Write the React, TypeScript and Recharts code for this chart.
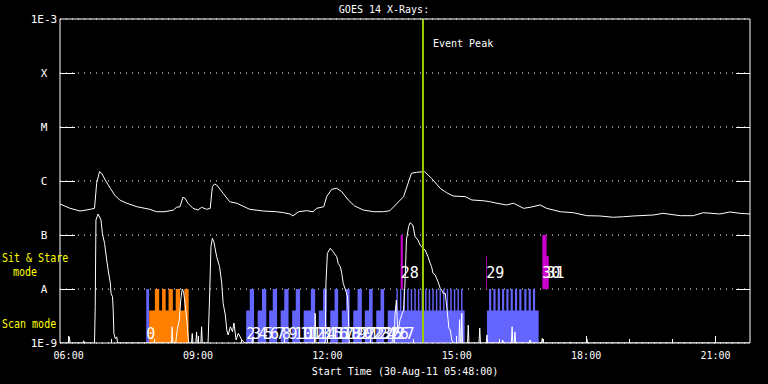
import React from 'react'
import {
  ComposedChart,
  Line,
  Area,
  Scatter,
  XAxis,
  YAxis,
  CartesianGrid,
  ReferenceLine,
} from 'recharts'

// ─── data ────────────────────────────────────────────────────────────────

const START = '05:48'
const END = '21:48'
const EVENT_PEAK = '14:13'

const fluxTicks = [1e-9, 1e-8, 1e-7, 1e-6, 1e-5, 1e-4, 1e-3]
const fluxLabels = ['1E-9', 'A', 'B', 'C', 'M', 'X', '1E-3']
const hourTicks = [6, 7, 8, 9, 10, 11, 12, 13, 14, 15, 16, 17, 18, 19, 20, 21]
const labelHours = [6, 9, 12, 15, 18, 21]

// GOES 1-8 A channel [time, W/m2]
const longChannel: [string, number][] = [
  ['05:48', 3.75e-7], ['06:02', 3.12e-7], ['06:16', 2.78e-7], ['06:30', 2.99e-7],
  ['06:36', 3.12e-7], ['06:39', 9.06e-7], ['06:43', 1.49e-6], ['06:46', 1.39e-6],
  ['06:51', 1.04e-6], ['06:58', 7.33e-7], ['07:04', 5.51e-7], ['07:11', 4.45e-7],
  ['07:21', 3.87e-7], ['07:35', 3.34e-7], ['07:53', 2.99e-7], ['08:02', 2.7e-7],
  ['08:14', 2.7e-7], ['08:26', 2.9e-7], ['08:30', 3.26e-7], ['08:35', 3.34e-7],
  ['08:39', 4.99e-7], ['08:42', 4.79e-7], ['08:46', 3.87e-7], ['08:53', 3.12e-7],
  ['09:00', 2.9e-7], ['09:05', 3.26e-7], ['09:12', 2.99e-7], ['09:17', 3.12e-7],
  ['09:20', 7.84e-7], ['09:23', 8.8e-7], ['09:26', 8.43e-7], ['09:35', 5.92e-7],
  ['09:44', 4.14e-7], ['09:54', 3.87e-7], ['10:12', 2.99e-7], ['10:31', 2.78e-7],
  ['10:49', 2.7e-7], ['10:59', 2.59e-7], ['11:08', 2.45e-7], ['11:12', 2.25e-7],
  ['11:20', 2.7e-7], ['11:31', 2.82e-7], ['11:40', 2.7e-7], ['11:45', 3.12e-7],
  ['11:55', 3.34e-7], ['11:59', 5.12e-7], ['12:06', 7.02e-7], ['12:13', 7.33e-7],
  ['12:20', 6.34e-7], ['12:29', 4.45e-7], ['12:38', 3.44e-7], ['12:50', 2.9e-7],
  ['13:04', 2.7e-7], ['13:18', 2.7e-7], ['13:27', 2.82e-7], ['13:36', 3.75e-7],
  ['13:46', 5.12e-7], ['13:53', 9.7e-7], ['13:57', 1.39e-6], ['14:04', 1.45e-6],
  ['14:15', 1.49e-6], ['14:25', 1.12e-6], ['14:37', 7.33e-7], ['14:46', 6.07e-7],
  ['14:55', 5.27e-7], ['15:12', 5.12e-7], ['15:21', 4.45e-7], ['15:37', 4.31e-7],
  ['15:46', 4.14e-7], ['15:56', 3.87e-7], ['16:09', 3.6e-7], ['16:19', 3.87e-7],
  ['16:33', 3.12e-7], ['16:42', 3.26e-7], ['16:56', 3.6e-7], ['17:05', 3.12e-7],
  ['17:24', 2.7e-7], ['17:42', 2.59e-7], ['18:01', 2.28e-7], ['18:19', 2.25e-7],
  ['18:38', 2.13e-7], ['18:52', 2.18e-7], ['19:06', 2.25e-7], ['19:34', 2.35e-7],
  ['19:47', 2.52e-7], ['20:11', 2.28e-7], ['20:29', 2.28e-7], ['20:43', 2.59e-7],
  ['21:06', 2.45e-7], ['21:20', 2.67e-7], ['21:34', 2.52e-7], ['21:48', 2.45e-7],
]

// GOES 0.5-4 A channel [time, W/m2]
const shortChannel: [string, number][] = [
  ['05:48', 1e-9], ['06:00', 1e-9], ['06:01', 1.3e-9], ['06:02', 1e-9],
  ['06:20', 1e-9], ['06:21', 1.1e-9], ['06:22', 1e-9],
  ['06:36', 1e-9], ['06:37', 4.7e-9], ['06:38', 1.9e-7], ['06:41', 2.45e-7],
  ['06:45', 1.9e-7], ['06:47', 1.07e-7], ['06:50', 7.0e-8], ['06:53', 3.44e-8],
  ['06:55', 2.25e-8], ['06:58', 1.28e-8], ['06:59', 8.3e-9], ['07:01', 7.2e-9],
  ['07:02', 4.1e-9], ['07:03', 1.5e-9], ['07:05', 1.2e-9], ['07:07', 1.3e-9],
  ['07:08', 1e-9],
  ['08:23', 1e-9], ['08:24', 2e-9], ['08:25', 1e-9],
  ['08:29', 1e-9], ['08:31', 1.74e-9], ['08:34', 2.67e-9], ['08:36', 6.25e-9],
  ['08:38', 1e-8], ['08:40', 8.8e-9], ['08:43', 4.1e-9], ['08:45', 2.15e-9],
  ['08:47', 1e-9],
  ['08:51', 1e-9], ['08:52', 1.5e-9], ['08:53', 1e-9], ['08:57', 1e-9],
  ['08:58', 1.6e-9], ['08:59', 1e-9], ['09:04', 1e-9], ['09:05', 2e-9],
  ['09:06', 1e-9],
  ['09:14', 1e-9], ['09:16', 6.25e-9], ['09:18', 6.07e-8], ['09:20', 8.7e-8],
  ['09:22', 7.5e-8], ['09:26', 3.96e-8], ['09:30', 2.59e-8], ['09:33', 1.28e-8],
  ['09:35', 5.43e-9], ['09:38', 3.3e-9], ['09:40', 1.74e-9], ['09:42', 1.41e-9],
  ['09:45', 2e-9], ['09:48', 1.62e-9], ['09:50', 2.35e-9], ['09:53', 1.14e-9],
  ['09:56', 1.51e-9], ['10:01', 1.14e-9], ['10:05', 1e-9],
  ['10:15', 1e-9], ['10:16', 1.3e-9], ['10:17', 1e-9],
  ['11:42', 1e-9], ['11:43', 3.55e-9], ['11:44', 1e-9],
  ['11:57', 1e-9], ['11:58', 1.28e-8], ['12:00', 4.58e-8], ['12:04', 5.67e-8],
  ['12:08', 4.9e-8], ['12:13', 3.96e-8], ['12:15', 2.99e-8], ['12:18', 2.59e-8],
  ['12:20', 1.95e-8], ['12:22', 1.28e-8], ['12:26', 8.9e-9], ['12:28', 7.2e-9],
  ['12:29', 4.1e-9], ['12:30', 1.14e-9], ['12:31', 1e-9],
  ['13:30', 1e-9], ['13:32', 2e-9], ['13:33', 1e-9], ['13:34', 3.3e-9],
  ['13:36', 6.25e-9], ['13:38', 1.5e-9], ['13:41', 2.67e-9], ['13:46', 4.1e-9],
  ['13:48', 1.29e-8], ['13:50', 8.07e-8], ['13:53', 1.43e-7], ['13:55', 1.69e-7],
  ['13:59', 1.53e-7], ['14:02', 9.3e-8], ['14:06', 8.07e-8], ['14:09', 6.5e-8],
  ['14:11', 6.07e-8], ['14:13', 5.67e-8], ['14:16', 5.27e-8], ['14:20', 3.96e-8],
  ['14:23', 3.0e-8], ['14:25', 2.59e-8], ['14:27', 1.95e-8], ['14:30', 1.82e-8],
  ['14:34', 1.36e-8], ['14:37', 1.03e-8], ['14:39', 9.6e-9], ['14:41', 8.3e-9],
  ['14:44', 8.3e-9], ['14:46', 4.7e-9], ['14:48', 2.67e-9], ['14:49', 1.9e-9],
  ['14:51', 1.74e-9], ['14:53', 1.14e-9], ['14:55', 1e-9],
  ['15:03', 1e-9], ['15:04', 2.7e-9], ['15:05', 1e-9], ['15:06', 1e-9],
  ['15:07', 3.55e-9], ['15:08', 1e-9], ['15:15', 1e-9], ['15:16', 2.15e-9],
  ['15:17', 1e-9], ['15:31', 1e-9], ['15:32', 1.9e-9], ['15:33', 1e-9],
  ['15:41', 1e-9], ['15:42', 1.41e-9], ['15:43', 1e-9], ['16:03', 1e-9],
  ['16:04', 1.14e-9], ['16:05', 1e-9], ['16:16', 1e-9], ['16:17', 2e-9],
  ['16:18', 1e-9], ['16:20', 1e-9], ['16:21', 1.6e-9], ['16:22', 1e-9],
  ['16:41', 1e-9], ['16:42', 1.14e-9], ['16:43', 1e-9], ['16:58', 1e-9],
  ['16:59', 1.22e-9], ['17:00', 1e-9], ['17:37', 1e-9], ['17:38', 1.05e-9],
  ['17:39', 1e-9], ['18:00', 1e-9], ['18:01', 1.2e-9], ['18:02', 1e-9],
  ['21:48', 1e-9],
]

// observing timeline, step levels: 1 = full raster row, 0.6 = partial
const scanBlue: [string, number][] = [
  ['07:48', 1], ['07:52', 0],
  ['10:07', 0.6], ['10:12', 1], ['10:18', 0], ['10:23', 0.6], ['10:29', 1], ['10:35', 0],
  ['10:39', 0.6], ['10:44', 1], ['10:50', 0], ['10:55', 0.6], ['11:00', 1], ['11:06', 0],
  ['11:11', 0.6], ['11:16', 1], ['11:22', 0], ['11:27', 0.6], ['11:37', 1], ['11:43', 0],
  ['11:48', 0.6], ['11:54', 1], ['11:59', 0], ['12:04', 0.6], ['12:10', 1], ['12:15', 0],
  ['12:20', 0.6], ['12:26', 1], ['12:31', 0], ['12:36', 0.6], ['12:42', 1], ['12:48', 0],
  ['12:52', 0.6], ['12:58', 1], ['13:03', 0], ['13:08', 0.6], ['13:14', 1], ['13:19', 0],
  ['13:24', 0.6], ['13:36', 1], ['13:38', 0.6], ['13:41', 1], ['13:43', 0.6],
  ['13:46', 1], ['13:48', 0.6], ['13:51', 1], ['13:53', 0.6], ['13:56', 1], ['13:58', 0.6],
  ['14:01', 1], ['14:03', 0.6], ['14:06', 1], ['14:08', 0.6], ['14:11', 1], ['14:13', 0.6],
  ['14:16', 1], ['14:18', 0.6], ['14:21', 1], ['14:23', 0.6], ['14:26', 1], ['14:28', 0.6],
  ['14:31', 1], ['14:33', 0.6], ['14:36', 1], ['14:38', 0.6], ['14:41', 1], ['14:43', 0.6],
  ['14:46', 1], ['14:48', 0.6], ['14:51', 1], ['14:53', 0.6], ['14:56', 1], ['14:58', 0.6],
  ['15:01', 1], ['15:03', 0.6], ['15:06', 1], ['15:08', 0.6], ['15:11', 0],
  ['15:42', 0.6], ['15:45', 1], ['15:48', 0.6], ['15:51', 1], ['15:54', 0.6],
  ['15:57', 1], ['16:00', 0.6], ['16:03', 1], ['16:06', 0.6], ['16:09', 1], ['16:12', 0.6],
  ['16:15', 1], ['16:18', 0.6], ['16:21', 1], ['16:24', 0.6], ['16:27', 1], ['16:30', 0.6],
  ['16:34', 1], ['16:37', 0.6], ['16:40', 1], ['16:43', 0.6], ['16:46', 1], ['16:49', 0.6],
  ['16:54', 0],
]

const scanOrange: [string, number][] = [
  ['07:52', 0.6], ['08:00', 1], ['08:06', 0.6], ['08:10', 1], ['08:15', 0.6],
  ['08:19', 1], ['08:25', 0.6], ['08:29', 1], ['08:35', 0.6], ['08:41', 1], ['08:47', 0],
]

// sit & stare row sits on top of the scan row (base level 1)
const sitStare: [string, number][] = [
  ['13:42', 2], ['13:45', 1], ['15:41', 1.61], ['15:42', 1],
  ['16:59', 2], ['17:05', 1.61], ['17:08', 1],
]

const scanNumbers: [string, string][] = [
  ['07:48', '0'], ['10:07', '2'], ['10:15', '3'], ['10:24', '4'], ['10:32', '5'],
  ['10:40', '6'], ['10:49', '7'], ['10:57', '8'], ['11:06', '9'], ['11:14', '10'],
  ['11:22', '11'], ['11:31', '12'], ['11:39', '13'], ['11:47', '14'], ['11:56', '15'],
  ['12:04', '16'], ['12:12', '17'], ['12:21', '18'], ['12:29', '19'], ['12:38', '20'],
  ['12:46', '21'], ['12:54', '22'], ['13:03', '23'], ['13:11', '24'], ['13:19', '25'],
  ['13:28', '26'], ['13:36', '27'],
]
const stareNumbers: [string, string][] = [
  ['13:42', '28'], ['15:41', '29'], ['16:59', '30'], ['17:05', '31'],
]

// ─── helpers ─────────────────────────────────────────────────────────────

const FONT = '"DejaVu Sans Mono", monospace'
const BLUE = '#6464ff'
const ORANGE = '#ff8000'
const MAGENTA = '#cc00cc'
const GREEN = '#9ccc00'
const YELLOW = '#ffff00'

const SCAN_ROW = 0.07
const STARE_ROW = 1.2

function toH(s: string): number {
  const [h, m] = s.split(':').map(Number)
  return h + m / 60
}

const T0 = toH(START)
const T1 = toH(END)

const longData = longChannel.map(([t, f]) => ({ t: toH(t), flux: f }))
const shortData = shortChannel.map(([t, f]) => ({ t: toH(t), flux: f }))
const blueData = scanBlue.map(([t, v]) => ({ t: toH(t), v }))
const orangeData = scanOrange.map(([t, v]) => ({ t: toH(t), v }))
const stareData = sitStare.map(([t, v]) => ({ t: toH(t), v }))
const numberData = [
  ...scanNumbers.map(([t, text]) => ({ t: toH(t), v: SCAN_ROW, text })),
  ...stareNumbers.map(([t, text]) => ({ t: toH(t), v: STARE_ROW, text })),
]

function decade(v: number) {
  return Math.round(Math.log10(v)) + 9
}

function LeftTick(props: any) {
  const { x, y, payload } = props
  const i = decade(payload.value)
  const inner = i > 0 && i < fluxTicks.length - 1
  return (
    <g>
      {inner && <line x1={x} x2={x + 15} y1={y} y2={y} stroke="#fff" shapeRendering="crispEdges" />}
      <text x={x - 16} y={y + 4} textAnchor="middle" fill="#fff" fontSize={11} fontFamily={FONT}>
        {fluxLabels[i]}
      </text>
    </g>
  )
}

function RightTick(props: any) {
  const { x, y, payload } = props
  const i = decade(payload.value)
  if (i <= 0 || i >= fluxTicks.length - 1) return null
  return <line x1={x - 14} x2={x} y1={y} y2={y} stroke="#fff" shapeRendering="crispEdges" />
}

function BottomTick(props: any) {
  const { x, y, payload } = props
  const major = labelHours.includes(payload.value)
  return (
    <g>
      <line x1={x} x2={x} y1={y} y2={y - (major ? 7 : 4)} stroke="#fff" shapeRendering="crispEdges" />
      {major && (
        <text x={x} y={y + 16} textAnchor="middle" fill="#fff" fontSize={10} fontFamily={FONT}>
          {String(payload.value).padStart(2, '0')}:00
        </text>
      )}
    </g>
  )
}

function TopTick(props: any) {
  const { x, y, payload } = props
  const major = labelHours.includes(payload.value)
  return <line x1={x} x2={x} y1={y} y2={y + (major ? 7 : 4)} stroke="#fff" shapeRendering="crispEdges" />
}

function NumberLabel(props: any) {
  const { cx, cy, payload } = props
  return (
    <text x={cx} y={cy} fill="#fff" fontSize={15} fontFamily={FONT}>
      {payload.text}
    </text>
  )
}

function PeakLabel(props: any) {
  const vb = props.viewBox || {}
  return (
    <text x={vb.x + 10} y={vb.y + 28} fill="#fff" fontSize={10} fontFamily={FONT}>
      Event Peak
    </text>
  )
}

const yellowText: React.CSSProperties = {
  position: 'absolute',
  color: YELLOW,
  fontFamily: FONT,
  fontSize: 10,
  lineHeight: '10px',
  whiteSpace: 'pre',
  transform: 'scaleY(1.3)',
}

// ─── chart ───────────────────────────────────────────────────────────────

export default function App() {
  return (
    <div style={{ position: 'fixed', left: 0, top: 0, width: 768, height: 384, background: '#000' }}>
      <ComposedChart width={768} height={384} margin={{ top: 0, right: 0, bottom: 0, left: 0 }}>
        <CartesianGrid
          xAxisId="time"
          yAxisId="flux"
          vertical={false}
          stroke="#fff"
          strokeDasharray="1 5"
        />
        <XAxis
          xAxisId="time"
          dataKey="t"
          type="number"
          domain={[T0, T1]}
          ticks={hourTicks}
          interval={0}
          allowDataOverflow
          height={41}
          tickSize={0}
          tickMargin={0}
          tickLine={false}
          axisLine={{ stroke: '#fff' }}
          tick={<BottomTick />}
          label={{
            value: `Start Time (30-Aug-11 ${START}:00)`,
            position: 'insideBottom',
            offset: 9,
            fill: '#fff',
            fontSize: 10,
            fontFamily: FONT,
          }}
        />
        <XAxis
          xAxisId="top"
          orientation="top"
          type="number"
          domain={[T0, T1]}
          ticks={hourTicks}
          interval={0}
          allowDataOverflow
          height={19}
          tickSize={0}
          tickMargin={0}
          tickLine={false}
          axisLine={{ stroke: '#fff' }}
          tick={<TopTick />}
        />
        <YAxis
          yAxisId="flux"
          type="number"
          scale="log"
          domain={[1e-9, 1e-3]}
          ticks={fluxTicks}
          interval={0}
          allowDataOverflow
          width={60}
          tickSize={0}
          tickMargin={0}
          tickLine={false}
          axisLine={{ stroke: '#fff' }}
          tick={<LeftTick />}
        />
        <YAxis
          yAxisId="fluxR"
          orientation="right"
          type="number"
          scale="log"
          domain={[1e-9, 1e-3]}
          ticks={fluxTicks}
          interval={0}
          allowDataOverflow
          width={18}
          tickSize={0}
          tickMargin={0}
          tickLine={false}
          axisLine={{ stroke: '#fff' }}
          tick={<RightTick />}
        />
        <YAxis yAxisId="obs" dataKey="v" type="number" domain={[0, 6]} allowDataOverflow hide />

        <Area
          xAxisId="time"
          yAxisId="obs"
          data={blueData}
          dataKey="v"
          type="stepAfter"
          stroke="none"
          fill={BLUE}
          fillOpacity={1}
          isAnimationActive={false}
        />
        <Area
          xAxisId="time"
          yAxisId="obs"
          data={orangeData}
          dataKey="v"
          type="stepAfter"
          stroke="none"
          fill={ORANGE}
          fillOpacity={1}
          isAnimationActive={false}
        />
        <Area
          xAxisId="time"
          yAxisId="obs"
          data={stareData}
          dataKey="v"
          type="stepAfter"
          baseValue={1}
          stroke="none"
          fill={MAGENTA}
          fillOpacity={1}
          isAnimationActive={false}
        />

        <Line
          xAxisId="time"
          yAxisId="flux"
          data={shortData}
          dataKey="flux"
          type="linear"
          stroke="#fff"
          strokeWidth={1}
          dot={false}
          activeDot={false}
          isAnimationActive={false}
        />
        <Line
          xAxisId="time"
          yAxisId="flux"
          data={longData}
          dataKey="flux"
          type="linear"
          stroke="#fff"
          strokeWidth={1}
          dot={false}
          activeDot={false}
          isAnimationActive={false}
        />

        <ReferenceLine
          xAxisId="time"
          yAxisId="flux"
          x={toH(EVENT_PEAK)}
          stroke={GREEN}
          strokeWidth={2}
          label={PeakLabel}
        />

        <Scatter
          xAxisId="time"
          yAxisId="obs"
          data={numberData}
          dataKey="v"
          shape={NumberLabel}
          isAnimationActive={false}
        />
      </ComposedChart>

      <div
        style={{
          position: 'absolute',
          left: 0,
          top: 4,
          width: 768,
          textAlign: 'center',
          color: '#fff',
          fontFamily: FONT,
          fontSize: 10,
          lineHeight: '12px',
        }}
      >
        GOES 14 X-Rays:
      </div>
      <div style={{ ...yellowText, left: 2, top: 253 }}>Sit &amp; Stare</div>
      <div style={{ ...yellowText, left: 13, top: 267 }}>mode</div>
      <div style={{ ...yellowText, left: 2, top: 319 }}>Scan mode</div>
    </div>
  )
}
